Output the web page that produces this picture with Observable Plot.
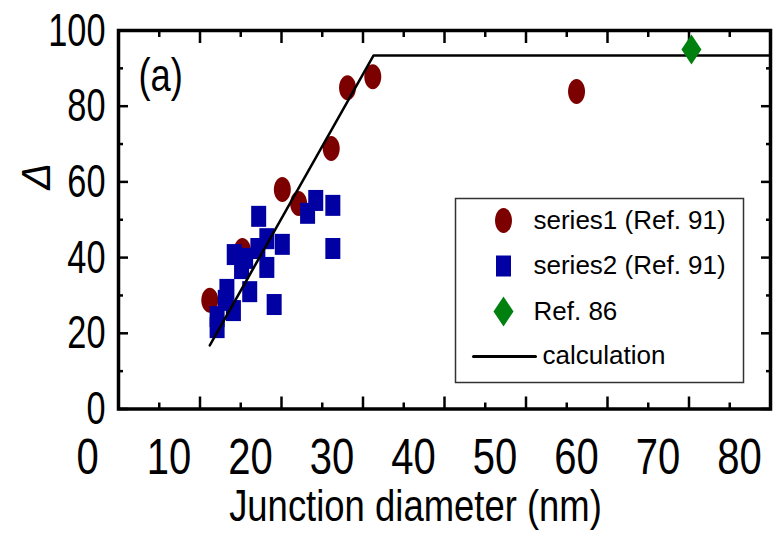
<!DOCTYPE html>
<html>
<head>
<meta charset="utf-8">
<script src="https://cdn.jsdelivr.net/npm/d3@7"></script>
<script src="https://cdn.jsdelivr.net/npm/@observablehq/plot@0.6"></script>
<style>
  html, body { margin: 0; padding: 0; background: #fff; }
  #chart svg { display: block; }
</style>
</head>
<body>
<div id="chart"></div>
<script>
// ---- data ----
const series1X = [11.2, 15.2, 20.1, 22.1, 26.1, 28.1, 31.2, 56.2];
const series1Y = [28.7, 41.9, 58.0, 54.3, 68.8, 84.9, 87.8, 83.9];

const series2X = [12.1, 12.1, 13.3, 14.1, 14.2, 15.1, 16.1, 17.1, 17.2, 18.2, 18.2, 20.1, 19.1, 23.2, 24.2, 26.3, 26.3, 15.6, 13.1];
const series2Y = [24.4, 21.5, 31.6, 26.0, 40.8, 37.1, 31.0, 42.4, 50.9, 45.0, 37.4, 43.5, 27.6, 51.7, 55.1, 53.8, 42.4, 39.8, 28.7];

const ref86X = [70.3];
const ref86Y = [95.0];

const calcX = [11.2, 31.3, 80];
const calcY = [16.8, 93.4, 93.4];

const xTickLabels = [0, 10, 20, 30, 40, 50, 60, 70, 80];
const xMinorTicks = [5, 15, 25, 35, 45, 55, 65, 75];
const yTickLabels = [0, 20, 40, 60, 80, 100];
const yMinorTicks = [10, 30, 50, 70, 90];

const seriesNames = ["series1 (Ref. 91)", "series2 (Ref. 91)", "Ref. 86", "calculation"];
const xTitle = "Junction diameter (nm)";
const yTitle = "Δ";
const panelLabel = "(a)";

// ---- tables built from arrays ----
const s1 = series1X.map((x, i) => ({x, y: series1Y[i]}));
const s2 = series2X.map((x, i) => ({x, y: series2Y[i]}));
const s3 = ref86X.map((x, i) => ({x, y: ref86Y[i]}));
const calc = calcX.map((x, i) => ({x, y: calcY[i]}));

// ---- custom marker shapes (stretched like the reference) ----
const ellipseSym = {draw(ctx) {
  const rx = 8.5, ry = 12.5, k = 0.5523;
  ctx.moveTo(rx, 0);
  ctx.bezierCurveTo(rx, ry * k, rx * k, ry, 0, ry);
  ctx.bezierCurveTo(-rx * k, ry, -rx, ry * k, -rx, 0);
  ctx.bezierCurveTo(-rx, -ry * k, -rx * k, -ry, 0, -ry);
  ctx.bezierCurveTo(rx * k, -ry, rx, -ry * k, rx, 0);
  ctx.closePath();
}};
const rectSym = {draw(ctx) { ctx.rect(-7.5, -10.5, 15, 21); }};
const diamondSym = {draw(ctx) {
  ctx.moveTo(0, -15); ctx.lineTo(10, 0); ctx.lineTo(0, 15); ctx.lineTo(-10, 0); ctx.closePath();
}};
const lineShape = {draw(ctx, l) { ctx.moveTo(0, 0); ctx.lineTo(0, -l); }};

const RED = "#7d0000", BLUE = "#0000a3", GREEN = "#00800f";
const SANS = "'Liberation Sans', Arial, sans-serif";

const tickAxis = (anchor, data, size) =>
  (anchor === "bottom" || anchor === "top")
    ? Plot.axisX(data, {anchor, tickSize: -size, tickFormat: () => "", label: null, strokeWidth: 2.5})
    : Plot.axisY(data, {anchor, tickSize: -size, tickFormat: () => "", label: null, strokeWidth: 2.5});

const legendRow = (i) => 190 + i * 45.5;
const legendText = (i, dx, dy) => Plot.text([seriesNames[i]], {
  frameAnchor: "top-left", dx, dy, textAnchor: "start", lineAnchor: "middle",
  fontSize: 26, fontFamily: SANS, fill: "#000"
});

const chart = Plot.plot({
  width: 774,
  height: 535,
  marginLeft: 118,
  marginRight: 4,
  marginTop: 30,
  marginBottom: 126.5,
  style: {fontFamily: SANS, background: "#fff"},
  x: {domain: [0, 80]},
  y: {domain: [0, 100]},
  marks: [
    // inward ticks on all four sides
    tickAxis("bottom", xTickLabels, 12),
    tickAxis("bottom", xMinorTicks, 6),
    tickAxis("top", xTickLabels, 12),
    tickAxis("top", xMinorTicks, 6),
    tickAxis("left", yTickLabels, 10),
    tickAxis("left", yMinorTicks, 5),
    tickAxis("right", yTickLabels, 10),
    tickAxis("right", yMinorTicks, 5),
    // tick labels
    Plot.axisX(xTickLabels, {anchor: "bottom", tickSize: 0, tickPadding: 29.5, dx: -31, fontSize: 50, fontFamily: SANS, label: null, fill: "#000"}),
    Plot.axisY(yTickLabels, {anchor: "left", tickSize: 0, tickPadding: 13, fontSize: 47, fontFamily: SANS, label: null, fill: "#000"}),
    // data
    Plot.dot(s1, {x: "x", y: "y", symbol: ellipseSym, fill: RED, stroke: null}),
    Plot.dot(s2, {x: "x", y: "y", symbol: rectSym, fill: BLUE, stroke: null}),
    Plot.line(calc, {x: "x", y: "y", stroke: "#000", strokeWidth: 2.5}),
    Plot.dot(s3, {x: "x", y: "y", symbol: diamondSym, fill: GREEN, stroke: null}),
    // plot frame
    Plot.frame({stroke: "#000", strokeWidth: 3.5}),
    // legend box
    Plot.frame({stroke: "#333", strokeWidth: 1.5, insetLeft: 337, insetRight: 27, insetTop: 168, insetBottom: 26.5}),
    Plot.dot([0], {frameAnchor: "top-left", dx: 385, dy: legendRow(0), symbol: ellipseSym, fill: RED, stroke: null}),
    Plot.dot([0], {frameAnchor: "top-left", dx: 385, dy: legendRow(1), symbol: rectSym, fill: BLUE, stroke: null}),
    Plot.dot([0], {frameAnchor: "top-left", dx: 385, dy: legendRow(2), symbol: diamondSym, fill: GREEN, stroke: null}),
    Plot.vector([0], {frameAnchor: "top-left", dx: 355, dy: 326, length: 62, rotate: 90, anchor: "start", shape: lineShape, stroke: "#000", strokeWidth: 3}),
    legendText(0, 415, legendRow(0)),
    legendText(1, 415, legendRow(1)),
    legendText(2, 415, legendRow(2)),
    legendText(3, 424, 325),
    // annotations & titles
    Plot.text([panelLabel], {frameAnchor: "top-left", dx: 20, dy: 46, textAnchor: "start", lineAnchor: "middle", fontSize: 46, fontFamily: SANS, fill: "#000"}),
    Plot.text([xTitle], {frameAnchor: "bottom", dx: -29, dy: 98, lineAnchor: "middle", fontSize: 45, fontFamily: SANS, fill: "#000"}),
    Plot.text([yTitle], {frameAnchor: "left", dx: -81, dy: -30, rotate: -90, lineAnchor: "middle", fontSize: 40, fontStyle: "italic", fontFamily: SANS, fill: "#000"})
  ]
});
document.getElementById("chart").appendChild(chart);

// condense the text horizontally, like the narrow lettering of the reference
function condense(texts, factor) {
  texts.forEach(t => {
    const len = t.getComputedTextLength();
    if (len > 0) {
      t.setAttribute("textLength", (len * factor).toFixed(2));
      t.setAttribute("lengthAdjust", "spacingAndGlyphs");
    }
  });
}
const allTexts = Array.from(chart.querySelectorAll("text"));
condense(Array.from(chart.querySelectorAll('g[aria-label="x-axis tick label"] text')), 0.8);
condense(Array.from(chart.querySelectorAll('g[aria-label="y-axis tick label"] text')), 0.73);
condense(allTexts.filter(t => t.textContent === xTitle), 0.81);
condense(allTexts.filter(t => t.textContent === panelLabel), 0.79);
</script>
</body>
</html>
